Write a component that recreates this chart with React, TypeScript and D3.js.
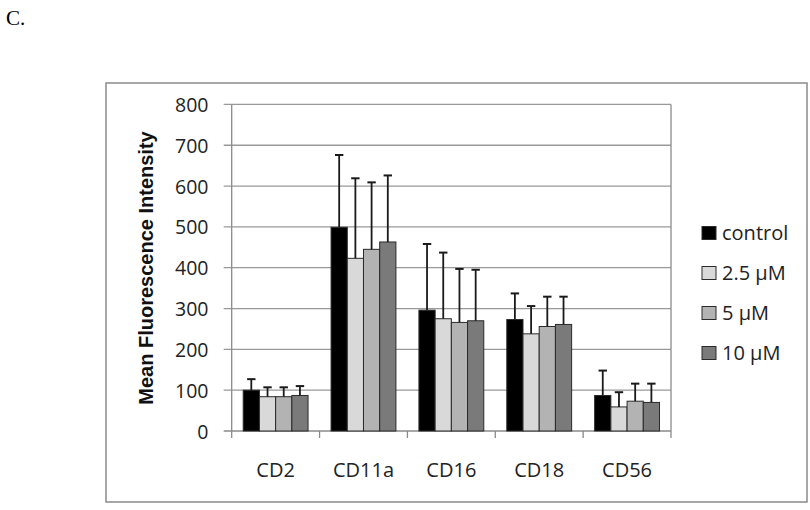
import * as d3 from "d3";
import { useEffect, useRef } from "react";

const CATEGORIES = ["CD2", "CD11a", "CD16", "CD18", "CD56"];
const SERIES = ["control", "2.5 µM", "5 µM", "10 µM"];
const COLORS = ["#000000", "#d9d9d9", "#b3b3b3", "#7a7a7a"];

// mean values per series, in category order
const CONTROL = [100, 499, 296, 273, 87];
const UM_2_5 = [84, 423, 275, 238, 59];
const UM_5 = [84, 445, 266, 256, 73];
const UM_10 = [87, 463, 270, 261, 70];

// upper error bar lengths
const CONTROL_ERR = [27, 177, 162, 64, 61];
const UM_2_5_ERR = [23, 196, 162, 68, 36];
const UM_5_ERR = [23, 164, 131, 73, 43];
const UM_10_ERR = [23, 163, 125, 68, 46];

const Y_TICKS = [0, 100, 200, 300, 400, 500, 600, 700, 800];

const VALUES = [CONTROL, UM_2_5, UM_5, UM_10];
const ERRORS = [CONTROL_ERR, UM_2_5_ERR, UM_5_ERR, UM_10_ERR];

const WIDTH = 810;
const HEIGHT = 510;
const FONT = "'Open Sans', 'Liberation Sans', sans-serif";

const App = () => {
  const svgRef = useRef<SVGSVGElement>(null);

  useEffect(() => {
    if (!svgRef.current) return;
    const svg = d3.select(svgRef.current);
    svg.selectAll("*").remove();

    const plot = { left: 231.7, right: 671, top: 104.4, bottom: 431 };

    // outer frame
    svg
      .append("rect")
      .attr("x", 106)
      .attr("y", 83)
      .attr("width", 701)
      .attr("height", 419)
      .attr("fill", "#fff")
      .attr("stroke", "#8a8a8a")
      .attr("stroke-width", 1.5);

    svg
      .append("text")
      .attr("x", 6)
      .attr("y", 25)
      .attr("font-family", "'Liberation Serif', 'Times New Roman', serif")
      .attr("font-size", 21)
      .text("C.");

    const y = d3.scaleLinear().domain([0, 800]).range([plot.bottom, plot.top]);
    const x0 = d3
      .scaleBand<string>()
      .domain(CATEGORIES)
      .range([plot.left, plot.right])
      .padding(0);
    const gap = x0.bandwidth() * 0.131;
    const x1 = d3
      .scaleBand<string>()
      .domain(SERIES)
      .range([gap, x0.bandwidth() - gap])
      .padding(0);

    // gridlines
    svg
      .append("g")
      .selectAll("line")
      .data(Y_TICKS)
      .enter()
      .append("line")
      .attr("x1", plot.left - 8)
      .attr("x2", plot.right)
      .attr("y1", (d) => y(d))
      .attr("y2", (d) => y(d))
      .attr("stroke", (d) => (d === 0 ? "#8a8a8a" : "#999"))
      .attr("stroke-width", 1.3);

    svg
      .append("g")
      .selectAll("text")
      .data(Y_TICKS)
      .enter()
      .append("text")
      .attr("x", 208.5)
      .attr("y", (d) => y(d) + 7.5)
      .attr("text-anchor", "end")
      .attr("font-family", FONT)
      .attr("font-size", 19.5)
      .attr("fill", "#222")
      .text((d) => d);

    // axis lines
    svg
      .append("line")
      .attr("x1", plot.left)
      .attr("x2", plot.left)
      .attr("y1", plot.top)
      .attr("y2", plot.bottom + 7)
      .attr("stroke", "#8a8a8a")
      .attr("stroke-width", 1.3);
    svg
      .append("line")
      .attr("x1", plot.right)
      .attr("x2", plot.right)
      .attr("y1", plot.top)
      .attr("y2", plot.bottom + 7)
      .attr("stroke", "#8a8a8a")
      .attr("stroke-width", 1.3);

    // x ticks at band boundaries
    const bounds = CATEGORIES.map((c) => x0(c) as number).slice(1);
    svg
      .append("g")
      .selectAll("line")
      .data(bounds)
      .enter()
      .append("line")
      .attr("x1", (d) => d)
      .attr("x2", (d) => d)
      .attr("y1", plot.bottom)
      .attr("y2", plot.bottom + 7)
      .attr("stroke", "#8a8a8a")
      .attr("stroke-width", 1.3);

    svg
      .append("g")
      .selectAll("text")
      .data(CATEGORIES)
      .enter()
      .append("text")
      .attr("x", (d) => (x0(d) as number) + x0.bandwidth() / 2)
      .attr("y", 477)
      .attr("text-anchor", "middle")
      .attr("font-family", FONT)
      .attr("font-size", 20)
      .attr("fill", "#222")
      .text((d) => d);

    // bars + error bars
    const groups = svg
      .append("g")
      .selectAll("g")
      .data(CATEGORIES)
      .enter()
      .append("g")
      .attr("transform", (d) => `translate(${x0(d)},0)`);

    SERIES.forEach((s, si) => {
      groups
        .append("rect")
        .attr("x", x1(s) as number)
        .attr("y", (_, ci) => y(VALUES[si][ci]))
        .attr("width", x1.bandwidth())
        .attr("height", (_, ci) => plot.bottom - y(VALUES[si][ci]))
        .attr("fill", COLORS[si])
        .attr("stroke", "#2a2a2a")
        .attr("stroke-width", 1);

      const cx = (x1(s) as number) + x1.bandwidth() / 2;
      groups
        .append("line")
        .attr("x1", cx)
        .attr("x2", cx)
        .attr("y1", (_, ci) => y(VALUES[si][ci]))
        .attr("y2", (_, ci) => y(VALUES[si][ci] + ERRORS[si][ci]))
        .attr("stroke", "#1a1a1a")
        .attr("stroke-width", 1.8);
      groups
        .append("line")
        .attr("x1", cx - 4.2)
        .attr("x2", cx + 4.2)
        .attr("y1", (_, ci) => y(VALUES[si][ci] + ERRORS[si][ci]))
        .attr("y2", (_, ci) => y(VALUES[si][ci] + ERRORS[si][ci]))
        .attr("stroke", "#1a1a1a")
        .attr("stroke-width", 2);
    });

    // y title
    svg
      .append("text")
      .attr("transform", "translate(152.5,268) rotate(-90)")
      .attr("text-anchor", "middle")
      .attr("font-family", "'Liberation Sans', Arial, sans-serif")
      .attr("font-weight", "bold")
      .attr("font-size", 20)
      .attr("fill", "#111")
      .text("Mean Fluorescence Intensity");

    // legend
    const legend = svg
      .append("g")
      .selectAll("g")
      .data(SERIES)
      .enter()
      .append("g")
      .attr("transform", (_, i) => `translate(702,${233 + i * 40})`);
    legend
      .append("rect")
      .attr("x", 0)
      .attr("y", -6.5)
      .attr("width", 14)
      .attr("height", 13)
      .attr("fill", (_, i) => COLORS[i])
      .attr("stroke", "#2a2a2a")
      .attr("stroke-width", 1);
    legend
      .append("text")
      .attr("x", 20)
      .attr("y", 7)
      .attr("font-family", FONT)
      .attr("font-size", 20)
      .attr("fill", "#222")
      .text((d) => d);
  }, []);

  return (
    <svg
      ref={svgRef}
      width={WIDTH}
      height={HEIGHT}
      style={{ position: "absolute", left: 0, top: 0, background: "#fff" }}
    />
  );
};

export default App;
